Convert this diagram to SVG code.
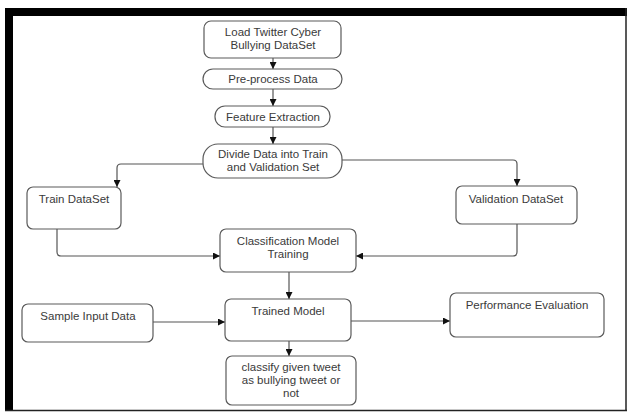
<svg xmlns="http://www.w3.org/2000/svg" width="628" height="414" viewBox="0 0 628 414">
<defs>
<style>
.box{fill:#fff;stroke:#5a5a5a;stroke-width:1.2}
.t{font-family:"Liberation Sans",Arial,sans-serif;font-size:11.5px;fill:#3a3a3a;text-anchor:middle}
.c{fill:none;stroke:#555;stroke-width:1.2}
</style>
<marker id="ah" viewBox="0 0 10 10" refX="10" refY="5" markerWidth="7" markerHeight="7" markerUnits="userSpaceOnUse" orient="auto">
<path d="M0,0 L10,5 L0,10 z" fill="#111"/>
</marker>
</defs>
<rect width="628" height="414" fill="#fff"/>
<g id="frame">
<rect x="5" y="8" width="8" height="403" fill="#000"/>
<rect x="5" y="8" width="622" height="8" fill="#000"/>
<line x1="626" y1="8" x2="626" y2="411" stroke="#222" stroke-width="1.5"/>
<line x1="5" y1="410.5" x2="627" y2="410.5" stroke="#222" stroke-width="1.5"/>
</g>
<g id="connectors">
<path class="c" d="M273,58 V69" marker-end="url(#ah)"/>
<path class="c" d="M273,89 V106" marker-end="url(#ah)"/>
<path class="c" d="M273,127 V144" marker-end="url(#ah)"/>
<path class="c" d="M203,164 H121 Q117,164 117,168 V187" marker-end="url(#ah)"/>
<path class="c" d="M342,160 H513 Q517,160 517,164 V186" marker-end="url(#ah)"/>
<path class="c" d="M57,229 V252 Q57,256 61,256 H220" marker-end="url(#ah)"/>
<path class="c" d="M517,224 V252 Q517,256 513,256 H356" marker-end="url(#ah)"/>
<path class="c" d="M289,272 V299" marker-end="url(#ah)"/>
<path class="c" d="M153,322 H225" marker-end="url(#ah)"/>
<path class="c" d="M351,321 H450" marker-end="url(#ah)"/>
<path class="c" d="M289,341 V356" marker-end="url(#ah)"/>
</g>
<g id="load">
<rect class="box" x="204" y="21" width="137" height="37" rx="7"/>
<text class="t" x="273" y="36">Load Twitter Cyber</text>
<text class="t" x="273" y="49">Bullying DataSet</text>
</g>
<g id="preprocess">
<rect class="box" x="203" y="69" width="139" height="20" rx="10"/>
<text class="t" x="273" y="83">Pre-process Data</text>
</g>
<g id="feature">
<rect class="box" x="215" y="106" width="115" height="21" rx="10"/>
<text class="t" x="273" y="121">Feature Extraction</text>
</g>
<g id="divide">
<rect class="box" x="203" y="144" width="139" height="34" rx="15"/>
<text class="t" x="273" y="158">Divide Data into Train</text>
<text class="t" x="273" y="171">and Validation Set</text>
</g>
<g id="train">
<rect class="box" x="27" y="187" width="94" height="42" rx="6"/>
<text class="t" x="74" y="203">Train DataSet</text>
</g>
<g id="validation">
<rect class="box" x="456" y="186" width="121" height="38" rx="6"/>
<text class="t" x="516" y="203">Validation DataSet</text>
</g>
<g id="classification">
<rect class="box" x="220" y="229" width="136" height="43" rx="6"/>
<text class="t" x="288" y="245">Classification Model</text>
<text class="t" x="288" y="258">Training</text>
</g>
<g id="sample">
<rect class="box" x="22" y="304" width="131" height="38" rx="6"/>
<text class="t" x="88" y="320">Sample Input Data</text>
</g>
<g id="trained">
<rect class="box" x="225" y="299" width="126" height="42" rx="6"/>
<text class="t" x="288" y="315">Trained Model</text>
</g>
<g id="performance">
<rect class="box" x="450" y="293" width="154" height="44" rx="6"/>
<text class="t" x="527" y="309">Performance Evaluation</text>
</g>
<g id="classify">
<rect class="box" x="226" y="356" width="130" height="49" rx="6"/>
<text class="t" x="291" y="371">classify given tweet</text>
<text class="t" x="291" y="384">as bullying tweet or</text>
<text class="t" x="291" y="397">not</text>
</g>
</svg>
